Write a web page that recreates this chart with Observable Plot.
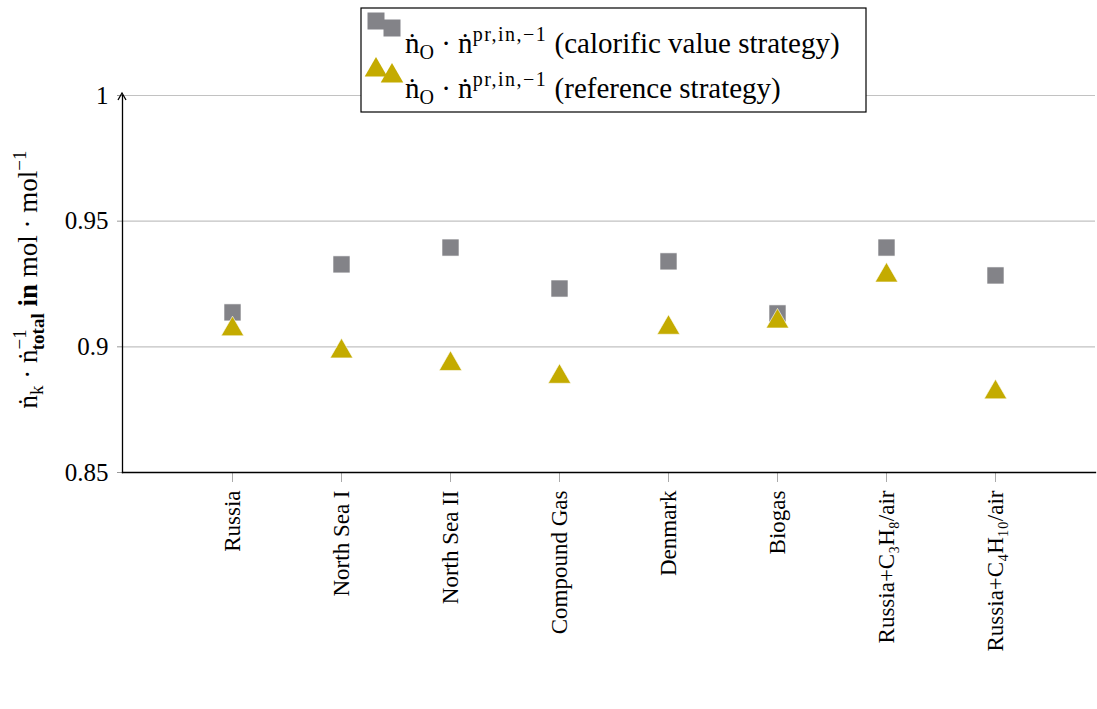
<!DOCTYPE html>
<html>
<head>
<meta charset="utf-8">
<script src="https://cdn.jsdelivr.net/npm/d3@7"></script>
<script src="https://cdn.jsdelivr.net/npm/@observablehq/plot@0.6"></script>
<style>
  html, body { margin: 0; padding: 0; background: #fff; }
  #chart { position: relative; width: 1097px; height: 709px; }
</style>
</head>
<body>
<div id="chart"></div>
<script>
const categories = ["Russia", "North Sea I", "North Sea II", "Compound Gas", "Denmark", "Biogas", "Russia+C₃H₈/air", "Russia+C₄H₁₀/air"];
const calorificValues = [0.9137, 0.9328, 0.9395, 0.9232, 0.934, 0.9133, 0.9395, 0.9284];
const referenceValues = [0.907, 0.8982, 0.8932, 0.8881, 0.9076, 0.9101, 0.9284, 0.8819];
const yTicks = [0.85, 0.9, 0.95, 1];
const yTickLabels = ["0.85", "0.9", "0.95", "1"];
const gridTicks = [0.9, 0.95, 1];

const squareColor = "#838388";
const triangleColor = "#c4ab00";
const FONT = "'Liberation Serif', 'DejaVu Serif', serif";

const calData = categories.map((c, i) => ({cat: c, v: calorificValues[i]}));
const refData = categories.map((c, i) => ({cat: c, v: referenceValues[i]}));

const W = 1097, H = 709;
const mL = 122, mR = 2, mT = 95, mB = 237;

const plot = Plot.plot({
  width: W,
  height: H,
  marginLeft: mL,
  marginRight: mR,
  marginTop: mT,
  marginBottom: mB,
  style: {fontFamily: FONT, fontSize: "22px", color: "#000", background: "#fff"},
  x: {type: "point", domain: categories, range: [231, 996], padding: 0},
  y: {domain: [0.85, 1]},
  marks: [
    Plot.gridY(gridTicks, {stroke: "#c2c2c2", strokeOpacity: 1, strokeWidth: 1.2}),
    Plot.axisY({ticks: yTicks, tickFormat: d => yTickLabels[yTicks.indexOf(d)], tickSize: 5, tickPadding: 9, stroke: "#999", label: null, fontSize: 25}),
    Plot.axisX({tickRotate: -90, tickSize: 10, tickPadding: 8, stroke: "#aaa", label: null, fontSize: 23}),
    Plot.frame({anchor: "bottom", stroke: "#000", strokeWidth: 1.3}),
    Plot.frame({anchor: "left", stroke: "#000", strokeWidth: 1.3}),
    Plot.dot(calData, {x: "cat", y: "v", symbol: "square", r: 9.6, fill: squareColor, stroke: "#fff", strokeWidth: 0.6}),
    Plot.dot(refData, {x: "cat", y: "v", symbol: "triangle", r: 8.4, fill: triangleColor, stroke: "#fff", strokeWidth: 0.6})
  ]
});

document.getElementById("chart").appendChild(plot);

const svg = d3.select(plot);

// arrow head at top of y axis
svg.append("path")
  .attr("d", `M${mL - 4},${mT + 5} L${mL},${mT - 2} L${mL + 4},${mT + 5}`)
  .attr("fill", "none").attr("stroke", "#000").attr("stroke-width", 1.3);

// y axis label
const yl = svg.append("text")
  .attr("transform", `translate(37, ${(mT + (H - mB)) / 2 - 4}) rotate(-90)`)
  .attr("text-anchor", "middle")
  .attr("font-family", FONT)
  .attr("font-size", 27)
  .attr("fill", "#000");
yl.append("tspan").text("ṅ");
yl.append("tspan").attr("dy", 6).attr("font-size", 19).text("k");
yl.append("tspan").attr("dy", -6).text(" · ṅ");
yl.append("tspan").attr("dy", -11).attr("font-size", 19).text("−1");
yl.append("tspan").attr("dx", -21).attr("dy", 18).attr("font-size", 19).attr("font-weight", "bold").text("total");
yl.append("tspan").attr("dy", -7).attr("font-weight", "bold").text(" in ");
yl.append("tspan").text("mol · mol");
yl.append("tspan").attr("dy", -11).attr("font-size", 19).text("−1");

// legend
const lg = svg.append("g");
lg.append("rect").attr("x", 361).attr("y", 8).attr("width", 505).attr("height", 104)
  .attr("fill", "#fff").attr("stroke", "#000").attr("stroke-width", 1.2);
const sq = d3.symbol(d3.symbolSquare, 289)();
const tri = d3.symbol(d3.symbolTriangle, 220)();
[[376, 21], [392, 28]].forEach(([x, y]) => lg.append("path").attr("d", sq).attr("transform", `translate(${x},${y})`).attr("fill", squareColor));
[[376, 70], [392, 76]].forEach(([x, y]) => lg.append("path").attr("d", tri).attr("transform", `translate(${x},${y})`).attr("fill", triangleColor));

function legendText(y, label) {
  const t = lg.append("text").attr("x", 405).attr("y", y)
    .attr("text-anchor", "start")
    .attr("font-family", FONT)
    .attr("font-size", 29).attr("fill", "#000");
  t.append("tspan").text("ṅ");
  t.append("tspan").attr("dy", 6).attr("font-size", 20).text("O");
  t.append("tspan").attr("dy", -6).text(" · ṅ");
  t.append("tspan").attr("dy", -12).attr("font-size", 20).attr("letter-spacing", 1.5).text("pr,in,−1");
  t.append("tspan").attr("dy", 12).text(" " + label);
}
legendText(53, "(calorific value strategy)");
legendText(98, "(reference strategy)");
</script>
</body>
</html>
